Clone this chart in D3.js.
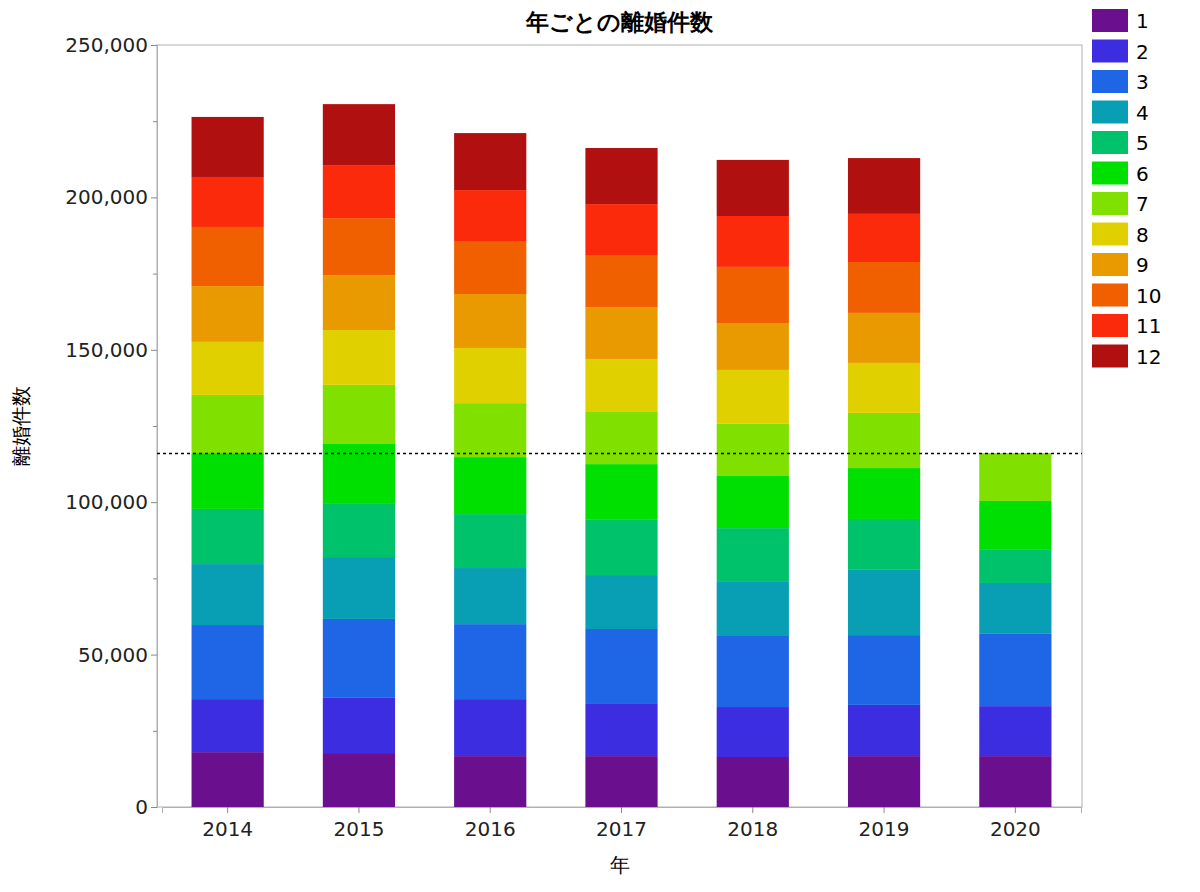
<!DOCTYPE html>
<html><head><meta charset="utf-8">
<script src="https://cdn.jsdelivr.net/npm/d3@7"></script>
<style>body{margin:0;background:#fff}text{font-family:"DejaVu Sans",Verdana,sans-serif}</style>
</head><body><svg id="chart" width="1200" height="892"></svg>
<script>
const years = ['2014','2015','2016','2017','2018','2019','2020'];
const months = ['1','2','3','4','5','6','7','8','9','10','11','12'];
// monthly divorce counts (thousands) per year, month 1..12
const y2014 = [18.0,17.4,24.3,20.0,18.1,18.3,19.1,17.4,18.3,19.4,16.4,19.7];
const y2015 = [17.7,18.1,25.9,20.3,17.7,19.4,19.4,18.0,18.0,18.7,17.4,20.0];
const y2016 = [16.7,18.7,24.6,18.4,17.7,18.7,17.7,18.1,17.7,17.4,16.7,18.7];
const y2017 = [16.7,17.1,24.6,17.7,18.1,18.3,17.1,17.4,17.0,17.1,16.7,18.4];
const y2018 = [16.4,16.4,23.3,18.0,17.4,17.1,17.1,17.7,15.4,18.4,16.7,18.4];
const y2019 = [16.7,16.8,22.9,21.4,16.7,16.7,18.1,16.4,16.4,16.7,15.8,18.3];
const y2020 = [16.7,16.4,23.7,16.7,11.1,15.8,15.7];
const refLine = 116000;
const colors = ['#6a0f8e','#3c2ee0','#1f66e6','#089fb5','#00c26a','#00e000','#80e000','#e0d000','#e89a00','#f06000','#fa2a0a','#b01010'];

const series = [y2014,y2015,y2016,y2017,y2018,y2019,y2020];
const svg = d3.select('#chart');
const L=157,R=1082,T=45,B=807;
const x = d3.scaleBand().domain(years).range([162,1081]).paddingInner(0.45).paddingOuter(0.225);
const y = d3.scaleLinear().domain([0,250000]).range([B,T]);

svg.append('rect').attr('x',L).attr('y',T).attr('width',R-L).attr('height',B-T)
  .attr('fill','none').attr('stroke','#b0b0b0');

years.forEach((yr,i)=>{
  let cum=0;
  series[i].forEach((v,m)=>{
    const a=cum; cum+=v*1000;
    svg.append('rect').attr('x',x(yr)).attr('width',x.bandwidth())
      .attr('y',y(cum)).attr('height',y(a)-y(cum)).attr('fill',colors[m]);
  });
});

const yAxis = svg.append('g').attr('transform',`translate(${L},0)`)
  .call(d3.axisLeft(y).tickValues(d3.range(0,250001,50000)).tickFormat(d3.format(',')).tickSize(6));
svg.append('g').attr('transform',`translate(${L},0)`)
  .call(d3.axisLeft(y).tickValues(d3.range(25000,250000,50000)).tickFormat('').tickSize(4))
  .select('.domain').remove();
yAxis.selectAll('text').attr('font-size',20).attr('fill','#222');
const xAxis = svg.append('g').attr('transform',`translate(0,${B})`).call(d3.axisBottom(x).tickSize(6));
xAxis.selectAll('text').attr('font-size',20).attr('fill','#222').attr('dy','1em');
svg.selectAll('.domain').attr('stroke','#b0b0b0');
svg.selectAll('.tick line').attr('stroke','#888');

svg.append('line').attr('x1',L).attr('x2',R).attr('y1',y(refLine)).attr('y2',y(refLine))
  .attr('stroke','#000').attr('stroke-width',1.5).attr('stroke-dasharray','3,3');

svg.append('text').attr('x',(L+R)/2).attr('y',30).attr('text-anchor','middle')
  .attr('font-size',23).attr('font-weight','bold').text('年ごとの離婚件数');
svg.append('text').attr('x',620).attr('y',872).attr('text-anchor','middle').attr('font-size',20).text('年');
svg.append('text').attr('transform','translate(28,426) rotate(-90)').attr('text-anchor','middle')
  .attr('font-size',20).text('離婚件数');

const lg = svg.append('g');
months.forEach((m,i)=>{
  lg.append('rect').attr('x',1092).attr('y',9+i*30.5).attr('width',36).attr('height',23).attr('fill',colors[i]);
  lg.append('text').attr('x',1136).attr('y',28+i*30.5).attr('font-size',20).text(m);
});
</script></body></html>
